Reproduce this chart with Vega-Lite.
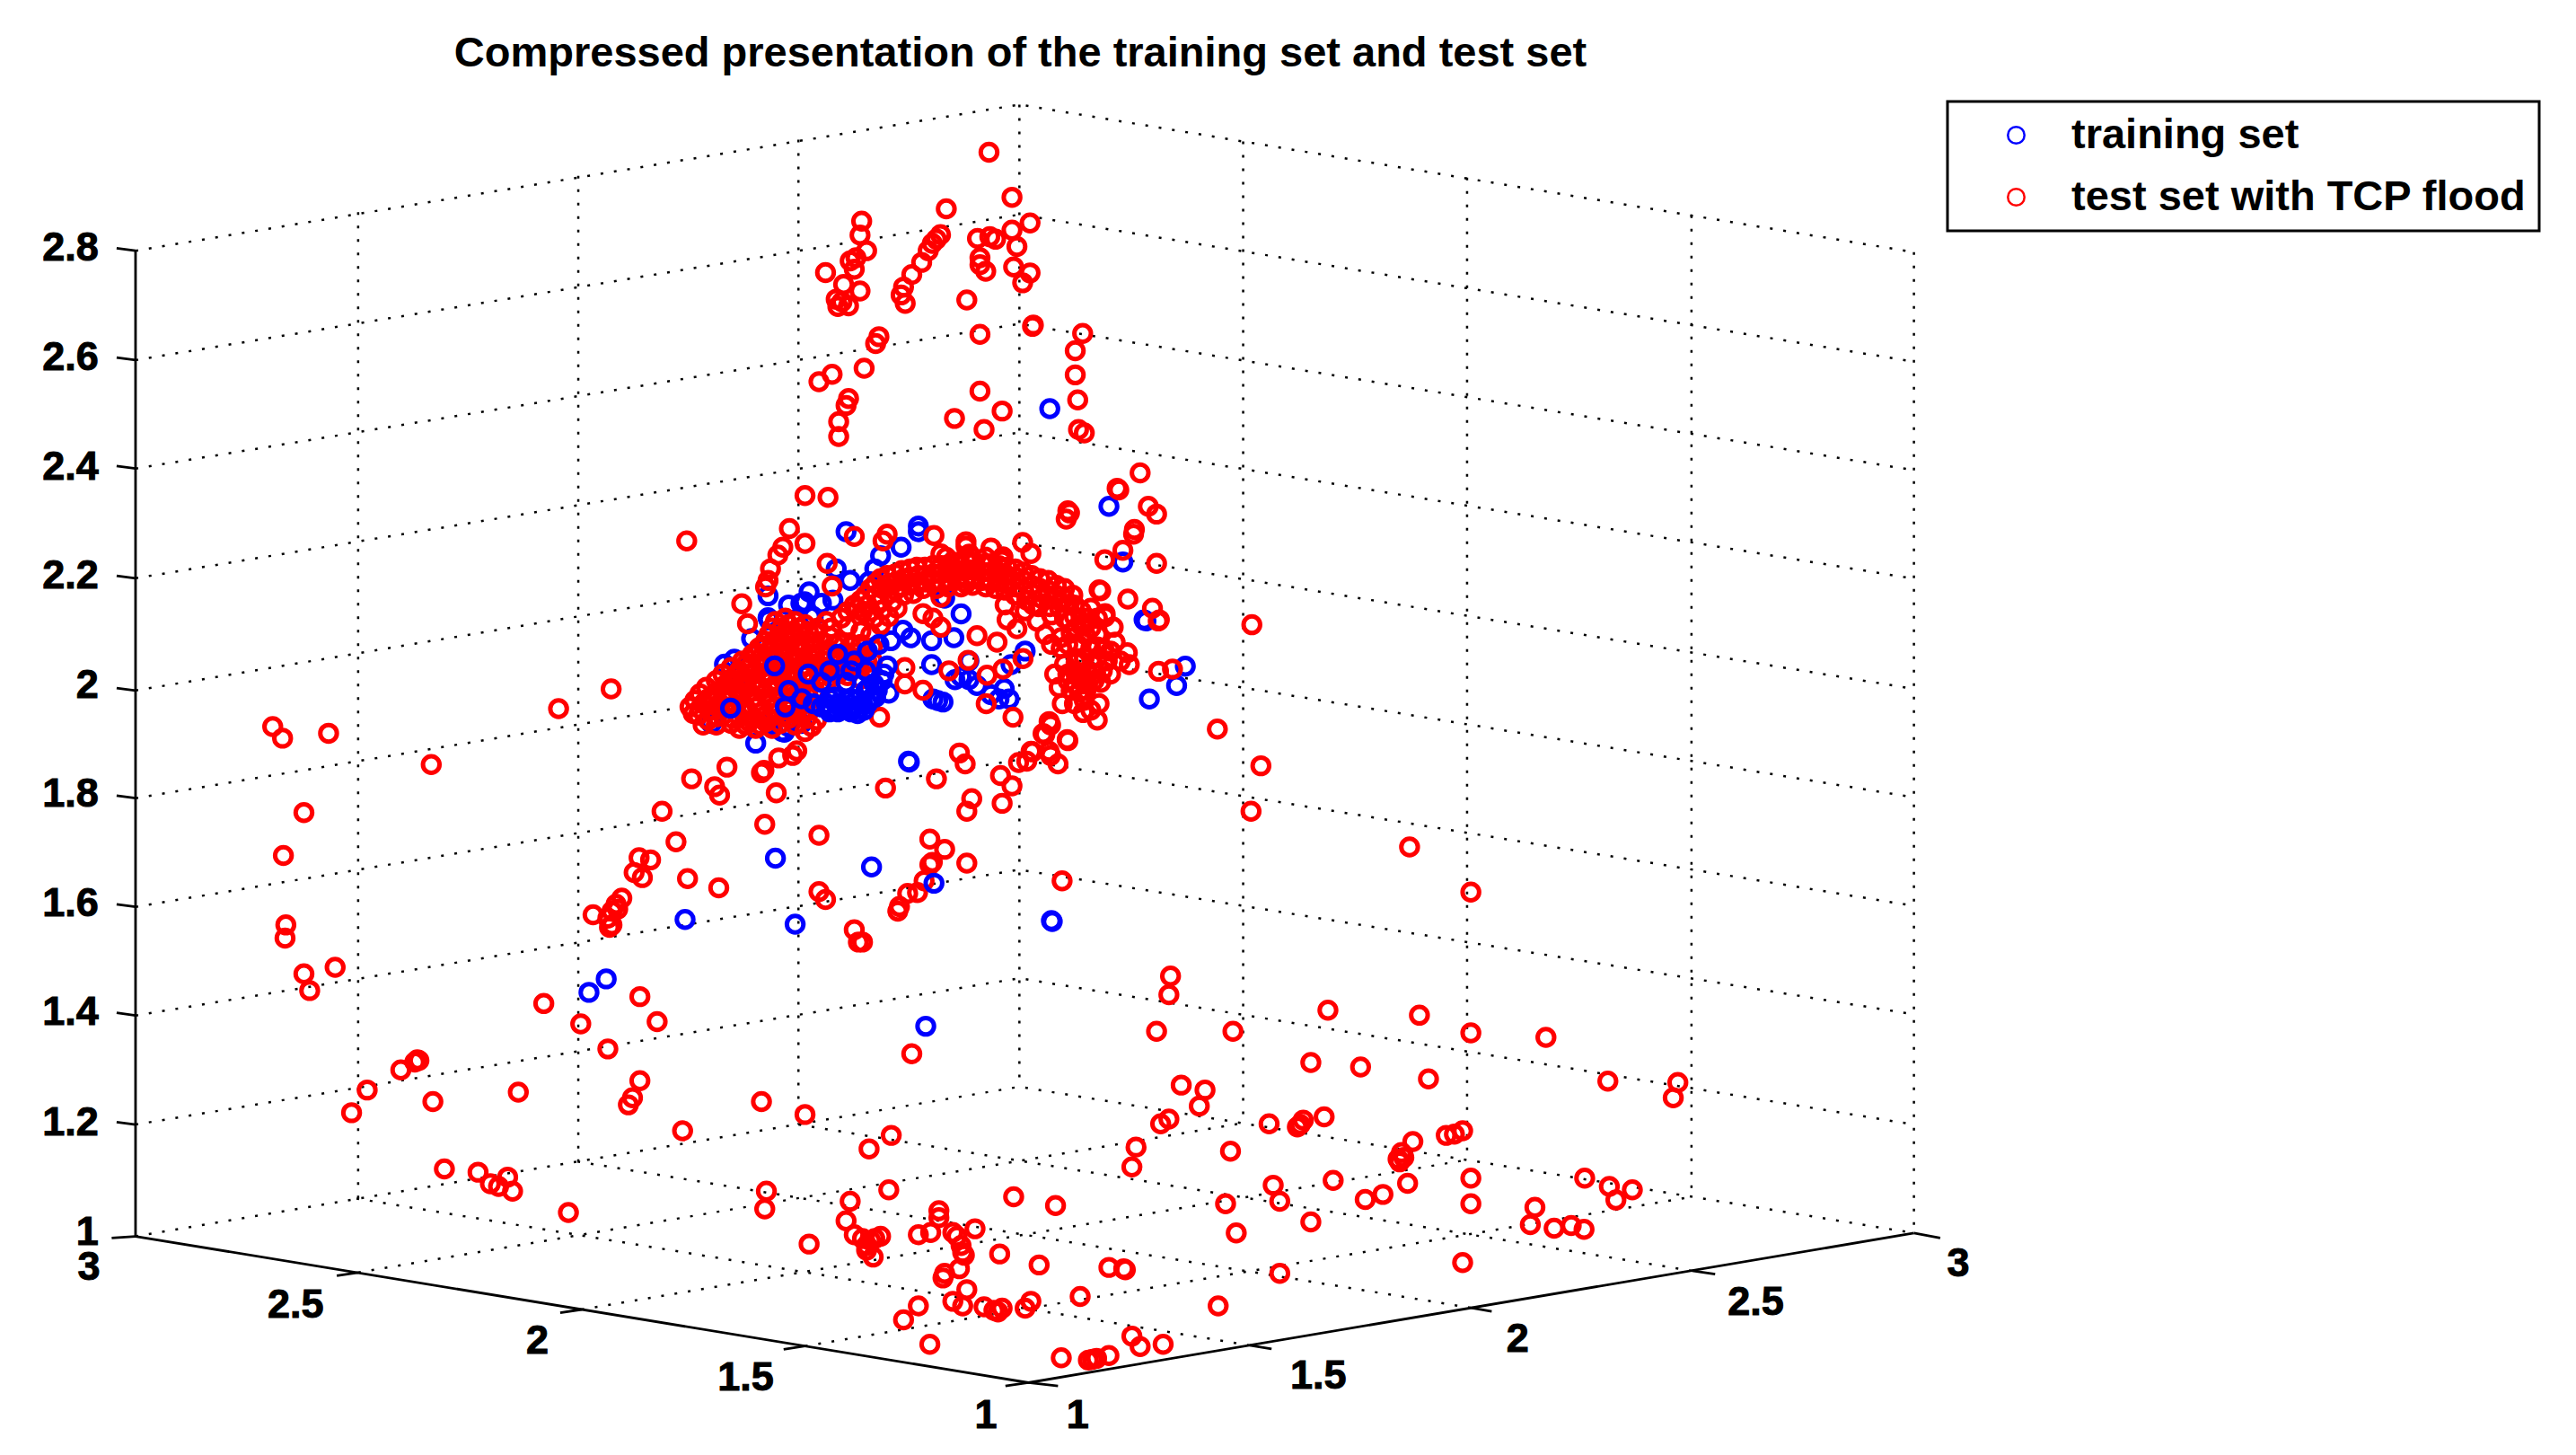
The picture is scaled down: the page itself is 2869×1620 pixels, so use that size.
{"$schema":"https://vega.github.io/schema/vega-lite/v6.json","width":2869,"height":1620,"padding":0,"autosize":"none","background":"white",
"title":{"text":"Compressed presentation of the training set and test set","font":"Liberation Sans","fontSize":47,"fontWeight":"bold","color":"black","anchor":"middle","dx":-298,"offset":-84},
"config":{"view":{"stroke":null},"font":"Liberation Sans","legend":{"strokeWidth":3}},
"datasets":{
"grid":[
{"line":"z2.8","u":82.5,"v":152.5},{"line":"z2.8","u":620.5,"v":63.6},{"line":"z2.8","u":1165,"v":153.4},
{"line":"z2.6","u":82.5,"v":219},{"line":"z2.6","u":620.5,"v":130.5},{"line":"z2.6","u":1165,"v":220},
{"line":"z2.4","u":82.5,"v":285},{"line":"z2.4","u":620.5,"v":197},{"line":"z2.4","u":1165,"v":286},
{"line":"z2.2","u":82.5,"v":351.7},{"line":"z2.2","u":620.5,"v":263},{"line":"z2.2","u":1165,"v":352},
{"line":"z2","u":82.5,"v":420},{"line":"z2","u":620.5,"v":330},{"line":"z2","u":1165,"v":419},
{"line":"z1.8","u":82.5,"v":485.5},{"line":"z1.8","u":620.5,"v":396},{"line":"z1.8","u":1165,"v":485},
{"line":"z1.6","u":82.5,"v":551.6},{"line":"z1.6","u":620.5,"v":462},{"line":"z1.6","u":1165,"v":551},
{"line":"z1.4","u":82.5,"v":617.7},{"line":"z1.4","u":620.5,"v":529},{"line":"z1.4","u":1165,"v":617},
{"line":"z1.2","u":82.5,"v":684},{"line":"z1.2","u":620.5,"v":595},{"line":"z1.2","u":1165,"v":684},
{"line":"z1","u":82.5,"v":752},{"line":"z1","u":620.5,"v":661},{"line":"z1","u":1165,"v":750},
{"line":"a","u":218,"v":129},{"line":"a","u":218,"v":729},
{"line":"b","u":352,"v":107},{"line":"b","u":352,"v":706.5},
{"line":"c","u":486,"v":85},{"line":"c","u":486,"v":684},
{"line":"d","u":620.5,"v":63.6},{"line":"d","u":620.5,"v":661},
{"line":"e","u":756.7,"v":86},{"line":"e","u":756.7,"v":683},
{"line":"f","u":893,"v":108},{"line":"f","u":893,"v":705.5},
{"line":"g","u":1029.6,"v":131},{"line":"g","u":1029.6,"v":728},
{"line":"h","u":1165,"v":153.4},{"line":"h","u":1165,"v":750},
{"line":"i","u":218,"v":774},{"line":"i","u":757,"v":683},
{"line":"j","u":354,"v":796.5},{"line":"j","u":893,"v":705.5},
{"line":"k","u":490,"v":818.7},{"line":"k","u":1029.6,"v":728},
{"line":"l","u":760.7,"v":818.3},{"line":"l","u":217,"v":729},
{"line":"m","u":895.5,"v":795.5},{"line":"m","u":351.5,"v":706.5},
{"line":"n","u":1030,"v":773},{"line":"n","u":486,"v":684}
],
"axes":[
{"line":"zaxis","u":82.5,"v":152.5},{"line":"zaxis","u":82.5,"v":752},
{"line":"front","u":82.5,"v":752},{"line":"front","u":626,"v":841},{"line":"front","u":1165,"v":750},
{"line":"t1","u":82.5,"v":152.5},{"line":"t1","u":71,"v":151},
{"line":"t2","u":82.5,"v":219},{"line":"t2","u":71,"v":217.5},
{"line":"t3","u":82.5,"v":285},{"line":"t3","u":71,"v":283.5},
{"line":"t4","u":82.5,"v":351.7},{"line":"t4","u":71,"v":350.2},
{"line":"t5","u":82.5,"v":420},{"line":"t5","u":71,"v":418.5},
{"line":"t6","u":82.5,"v":485.5},{"line":"t6","u":71,"v":484},
{"line":"t7","u":82.5,"v":551.6},{"line":"t7","u":71,"v":550},
{"line":"t8","u":82.5,"v":617.7},{"line":"t8","u":71,"v":616},
{"line":"t9","u":82.5,"v":684},{"line":"t9","u":71,"v":682.5},
{"line":"t10","u":82.5,"v":752},{"line":"t10","u":68,"v":753},
{"line":"t11","u":218,"v":774},{"line":"t11","u":205,"v":776},
{"line":"t12","u":354,"v":796.5},{"line":"t12","u":341,"v":798.5},
{"line":"t13","u":490,"v":818.7},{"line":"t13","u":477,"v":820.7},
{"line":"t14","u":626,"v":841},{"line":"t14","u":612,"v":843},
{"line":"t15","u":626,"v":841},{"line":"t15","u":644,"v":843},
{"line":"t16","u":760.7,"v":818.3},{"line":"t16","u":774,"v":820.5},
{"line":"t17","u":895.5,"v":795.5},{"line":"t17","u":908,"v":797.7},
{"line":"t18","u":1030,"v":773},{"line":"t18","u":1044,"v":775},
{"line":"t19","u":1165,"v":750},{"line":"t19","u":1181,"v":753}
],
"ticks":[
{"label":"2.8","u":60,"v":151,"align":"right"},{"label":"2.6","u":60,"v":217.5,"align":"right"},{"label":"2.4","u":60,"v":284,"align":"right"},{"label":"2.2","u":60,"v":350,"align":"right"},{"label":"2","u":60,"v":416.7,"align":"right"},{"label":"1.8","u":60,"v":483,"align":"right"},{"label":"1.6","u":60,"v":549.4,"align":"right"},{"label":"1.4","u":60,"v":615.5,"align":"right"},{"label":"1.2","u":60,"v":682.7,"align":"right"},{"label":"1","u":60,"v":749.6,"align":"right"},
{"label":"3","u":61,"v":771,"align":"right"},{"label":"2.5","u":197,"v":793.7,"align":"right"},{"label":"2","u":334,"v":815.5,"align":"right"},{"label":"1.5","u":471,"v":838,"align":"right"},{"label":"1","u":607,"v":860.7,"align":"right"},
{"label":"1","u":656,"v":860.7,"align":"center"},{"label":"1.5","u":802.4,"v":836.7,"align":"center"},{"label":"2","u":923.8,"v":814.6,"align":"center"},{"label":"2.5","u":1068.8,"v":792,"align":"center"},{"label":"3","u":1192,"v":768.9,"align":"center"}
],
"points":[
{"u":639,"v":248.6,"set":"train"},{"u":675,"v":308,"set":"train"},{"u":515,"v":323.4,"set":"train"},{"u":559,"v":320,"set":"train"},{"u":559,"v":323.4,"set":"train"},{"u":683.5,"v":341.8,"set":"train"},{"u":548.5,"v":332.8,"set":"train"},{"u":536,"v":338,"set":"train"},{"u":532.5,"v":346,"set":"train"},{"u":509,"v":346,"set":"train"},{"u":517.5,"v":353,"set":"train"},{"u":529,"v":353.7,"set":"train"},{"u":467.5,"v":362.4,"set":"train"},{"u":697.5,"v":377.7,"set":"train"},{"u":575,"v":363.8,"set":"train"},{"u":585,"v":373.4,"set":"train"},{"u":492.5,"v":360,"set":"train"},{"u":487.5,"v":367,"set":"train"},{"u":480,"v":368,"set":"train"},{"u":500,"v":367,"set":"train"},{"u":467.5,"v":375.7,"set":"train"},{"u":468,"v":377,"set":"train"},{"u":495,"v":375,"set":"train"},{"u":457.5,"v":388.4,"set":"train"},{"u":507,"v":365,"set":"train"},{"u":489.8,"v":366,"set":"train"},{"u":493.5,"v":375,"set":"train"},{"u":580.6,"v":387.9,"set":"train"},{"u":567.1,"v":389.7,"set":"train"},{"u":554.4,"v":387.9,"set":"train"},{"u":542.3,"v":389.7,"set":"train"},{"u":549.6,"v":383.3,"set":"train"},{"u":567.1,"v":404.3,"set":"train"},{"u":589.8,"v":402,"set":"train"},{"u":615.4,"v":404.3,"set":"train"},{"u":624,"v":396,"set":"train"},{"u":585,"v":411.6,"set":"train"},{"u":581.3,"v":413.4,"set":"train"},{"u":589.8,"v":413.4,"set":"train"},{"u":594.7,"v":417,"set":"train"},{"u":603.2,"v":422.5,"set":"train"},{"u":611.3,"v":418.9,"set":"train"},{"u":614.2,"v":425.2,"set":"train"},{"u":608.1,"v":425.2,"set":"train"},{"u":570.8,"v":426.1,"set":"train"},{"u":567.9,"v":425.2,"set":"train"},{"u":574,"v":427,"set":"train"},{"u":541,"v":421.6,"set":"train"},{"u":721.5,"v":405.2,"set":"train"},{"u":716.2,"v":417,"set":"train"},{"u":699.6,"v":425.2,"set":"train"},{"u":696.4,"v":377,"set":"train"},{"u":460,"v":452,"set":"train"},{"u":477.5,"v":445.4,"set":"train"},{"u":553,"v":463,"set":"train"},{"u":553.5,"v":463.5,"set":"train"},{"u":640,"v":560,"set":"train"},{"u":640.5,"v":560.5,"set":"train"},{"u":530.5,"v":527.3,"set":"train"},{"u":472,"v":522,"set":"train"},{"u":417,"v":559.3,"set":"train"},{"u":484,"v":562.1,"set":"train"},{"u":369,"v":595.4,"set":"train"},{"u":358.5,"v":603.6,"set":"train"},{"u":563.5,"v":624.2,"set":"train"},
{"u":471,"v":438,"set":"train"},{"u":480,"v":442,"set":"train"},{"u":488,"v":440,"set":"train"},{"u":476,"v":445,"set":"train"},{"u":468,"v":441,"set":"train"},{"u":441,"v":404,"set":"train"},{"u":447,"v":401,"set":"train"},{"u":451,"v":410,"set":"train"},{"u":433,"v":440,"set":"train"},
{"u":602,"v":92.6,"set":"test"},{"u":616,"v":120,"set":"test"},{"u":576,"v":127,"set":"test"},{"u":524.5,"v":134.5,"set":"test"},{"u":627,"v":135.6,"set":"test"},{"u":523.5,"v":143,"set":"test"},{"u":616,"v":140,"set":"test"},{"u":572.5,"v":142.7,"set":"test"},{"u":570,"v":145.5,"set":"test"},{"u":567.5,"v":148,"set":"test"},{"u":565,"v":152.5,"set":"test"},{"u":561,"v":159.6,"set":"test"},{"u":555,"v":167,"set":"test"},{"u":595,"v":145,"set":"test"},{"u":602.5,"v":144,"set":"test"},{"u":606,"v":145.5,"set":"test"},{"u":619,"v":150,"set":"test"},{"u":527.5,"v":152.5,"set":"test"},{"u":517.5,"v":158.7,"set":"test"},{"u":521,"v":156.8,"set":"test"},{"u":520,"v":163.8,"set":"test"},{"u":596.5,"v":156.8,"set":"test"},{"u":596.5,"v":161,"set":"test"},{"u":600,"v":165,"set":"test"},{"u":617,"v":162.4,"set":"test"},{"u":627,"v":166,"set":"test"},{"u":622.5,"v":172,"set":"test"},{"u":502.5,"v":165.8,"set":"test"},{"u":513.5,"v":173,"set":"test"},{"u":523.5,"v":177,"set":"test"},{"u":550,"v":174.6,"set":"test"},{"u":548.5,"v":179.4,"set":"test"},{"u":551,"v":184.5,"set":"test"},{"u":588.5,"v":182.5,"set":"test"},{"u":509,"v":182,"set":"test"},{"u":512.5,"v":183.6,"set":"test"},{"u":510,"v":186.4,"set":"test"},{"u":516.5,"v":186,"set":"test"},{"u":629,"v":197.7,"set":"test"},{"u":628.5,"v":198.5,"set":"test"},{"u":659,"v":202.8,"set":"test"},{"u":596.5,"v":203.4,"set":"test"},{"u":535,"v":204.8,"set":"test"},{"u":533,"v":209,"set":"test"},{"u":654.5,"v":213.3,"set":"test"},{"u":526,"v":224,"set":"test"},{"u":506.5,"v":227.7,"set":"test"},{"u":498.5,"v":232.2,"set":"test"},{"u":654.5,"v":228,"set":"test"},{"u":596.5,"v":237.9,"set":"test"},{"u":516.5,"v":242.4,"set":"test"},{"u":515,"v":246.6,"set":"test"},{"u":656,"v":243.2,"set":"test"},{"u":610,"v":250,"set":"test"},{"u":581,"v":254.5,"set":"test"},{"u":510.5,"v":256.5,"set":"test"},{"u":599,"v":261.3,"set":"test"},{"u":510.5,"v":265.5,"set":"test"},{"u":656.5,"v":261.3,"set":"test"},{"u":660,"v":263.3,"set":"test"},{"u":694,"v":287.6,"set":"test"},{"u":681,"v":298,"set":"test"},{"u":680,"v":297,"set":"test"},{"u":699,"v":308,"set":"test"},{"u":704,"v":312.7,"set":"test"},{"u":650,"v":310.7,"set":"test"},{"u":649,"v":315.8,"set":"test"},{"u":651,"v":312,"set":"test"},{"u":490,"v":301.4,"set":"test"},{"u":504,"v":302.5,"set":"test"},{"u":418,"v":329,"set":"test"},{"u":690.5,"v":322,"set":"test"},{"u":690,"v":324.9,"set":"test"},{"u":480.5,"v":321.5,"set":"test"},{"u":520,"v":326.3,"set":"test"},{"u":540,"v":324.9,"set":"test"},{"u":537.5,"v":329,"set":"test"},{"u":568.5,"v":325.7,"set":"test"},{"u":490,"v":330.5,"set":"test"},{"u":622.5,"v":330,"set":"test"},{"u":627.5,"v":336.7,"set":"test"},{"u":672.5,"v":340.4,"set":"test"},{"u":683.5,"v":334.7,"set":"test"},{"u":704,"v":342.7,"set":"test"},{"u":476.5,"v":332.8,"set":"test"},{"u":473.5,"v":337.6,"set":"test"},{"u":469,"v":346,"set":"test"},{"u":467.5,"v":353,"set":"test"},{"u":466,"v":357,"set":"test"},{"u":503.5,"v":342.7,"set":"test"},{"u":506.5,"v":356.5,"set":"test"},{"u":451.5,"v":367.2,"set":"test"},{"u":670,"v":359.3,"set":"test"},{"u":686.5,"v":364.4,"set":"test"},{"u":701.5,"v":370,"set":"test"},{"u":705,"v":377.7,"set":"test"},{"u":762,"v":380,"set":"test"},{"u":455,"v":379.4,"set":"test"},
{"u":572.7,"v":336.9,"set":"test"},{"u":588,"v":332.3,"set":"test"},{"u":588,"v":329.5,"set":"test"},{"u":603.2,"v":333.3,"set":"test"},{"u":610.5,"v":338.7,"set":"test"},{"u":572.7,"v":363.3,"set":"test"},{"u":567.9,"v":376,"set":"test"},{"u":572.7,"v":381.5,"set":"test"},{"u":561.8,"v":373.3,"set":"test"},{"u":594.7,"v":386.6,"set":"test"},{"u":606.9,"v":390.6,"set":"test"},{"u":589.3,"v":401.6,"set":"test"},{"u":577.6,"v":408,"set":"test"},{"u":600.8,"v":410.7,"set":"test"},{"u":610.5,"v":407,"set":"test"},{"u":622.7,"v":400.6,"set":"test"},{"u":600.3,"v":428,"set":"test"},{"u":616.6,"v":436.2,"set":"test"},{"u":561.8,"v":419.8,"set":"test"},{"u":550.8,"v":416,"set":"test"},{"u":550.8,"v":406,"set":"test"},{"u":535.4,"v":436.2,"set":"test"},
{"u":669,"v":358.8,"set":"test"},{"u":705.7,"v":377,"set":"test"},{"u":705.2,"v":408.3,"set":"test"},{"u":713.7,"v":407,"set":"test"},{"u":741,"v":443.5,"set":"test"},{"u":649.6,"v":449.8,"set":"test"},{"u":638.6,"v":438.9,"set":"test"},{"u":639.5,"v":441,"set":"test"},{"u":634.9,"v":446.2,"set":"test"},{"u":627.6,"v":457,"set":"test"},{"u":638.6,"v":457,"set":"test"},{"u":667.9,"v":438,"set":"test"},{"u":659.3,"v":433.4,"set":"test"},{"u":669,"v":428,"set":"test"},{"u":646.6,"v":428,"set":"test"},{"u":644.7,"v":418,"set":"test"},{"u":687.4,"v":404.3,"set":"test"},{"u":686.2,"v":397,"set":"test"},{"u":678.8,"v":390.6,"set":"test"},{"u":677.6,"v":381.5,"set":"test"},{"u":672.7,"v":373.3,"set":"test"},
{"u":611.8,"v":367.9,"set":"test"},{"u":613,"v":377,"set":"test"},{"u":619,"v":382.4,"set":"test"},{"u":631.3,"v":377.9,"set":"test"},{"u":636.2,"v":386,"set":"test"},{"u":645.9,"v":387.9,"set":"test"},{"u":645.9,"v":394.3,"set":"test"},{"u":655.7,"v":400.6,"set":"test"},{"u":658.1,"v":380.6,"set":"test"},{"u":660.6,"v":386,"set":"test"},{"u":658.1,"v":371.5,"set":"test"},{"u":650.8,"v":367.9,"set":"test"},{"u":641,"v":364.2,"set":"test"},{"u":628.8,"v":367.9,"set":"test"},{"u":624,"v":371.5,"set":"test"},{"u":667.9,"v":393.4,"set":"test"},{"u":665.4,"v":404.3,"set":"test"},{"u":672.7,"v":375.1,"set":"test"},
{"u":655,"v":382,"set":"test"},{"u":650,"v":392,"set":"test"},{"u":664,"v":382,"set":"test"},{"u":668,"v":386,"set":"test"},{"u":652,"v":385,"set":"test"},{"u":640,"v":392,"set":"test"},{"u":651,"v":378,"set":"test"},{"u":664,"v":370,"set":"test"},{"u":668,"v":376,"set":"test"},{"u":676,"v":396,"set":"test"},{"u":660,"v":426,"set":"test"},{"u":654,"v":428,"set":"test"},{"u":664,"v":432,"set":"test"},{"u":670,"v":415,"set":"test"},{"u":676,"v":410,"set":"test"},{"u":682,"v":402,"set":"test"},{"u":648,"v":404,"set":"test"},{"u":642,"v":410,"set":"test"},
{"u":650,"v":410,"set":"test"},{"u":654,"v":408,"set":"test"},{"u":658,"v":410,"set":"test"},{"u":662,"v":408,"set":"test"},{"u":667,"v":410,"set":"test"},{"u":671,"v":408,"set":"test"},{"u":650,"v":414,"set":"test"},{"u":654,"v":416,"set":"test"},{"u":658,"v":414,"set":"test"},{"u":662,"v":416,"set":"test"},{"u":666,"v":414,"set":"test"},{"u":652,"v":420,"set":"test"},{"u":657,"v":421,"set":"test"},{"u":661,"v":420,"set":"test"},{"u":655,"v":403,"set":"test"},{"u":660,"v":400,"set":"test"},{"u":668,"v":400,"set":"test"},{"u":674,"v":402,"set":"test"},{"u":672,"v":395,"set":"test"},{"u":664,"v":394,"set":"test"},{"u":656,"v":392,"set":"test"},
{"u":512,"v":376,"set":"test"},{"u":516,"v":372,"set":"test"},{"u":520,"v":368,"set":"test"},{"u":524,"v":365,"set":"test"},{"u":522,"v":370,"set":"test"},{"u":527,"v":362,"set":"test"},{"u":530,"v":358,"set":"test"},{"u":528,"v":368,"set":"test"},{"u":533,"v":355,"set":"test"},{"u":533,"v":362,"set":"test"},{"u":536,"v":352,"set":"test"},{"u":537,"v":358,"set":"test"},{"u":535,"v":366,"set":"test"},{"u":540,"v":350,"set":"test"},{"u":541,"v":355,"set":"test"},{"u":541,"v":361,"set":"test"},{"u":545,"v":349,"set":"test"},{"u":545,"v":354,"set":"test"},{"u":545,"v":359,"set":"test"},{"u":549,"v":347,"set":"test"},{"u":550,"v":352,"set":"test"},{"u":549,"v":357,"set":"test"},{"u":554,"v":346,"set":"test"},{"u":554,"v":351,"set":"test"},{"u":554,"v":356,"set":"test"},{"u":558,"v":345,"set":"test"},{"u":559,"v":350,"set":"test"},{"u":558,"v":355,"set":"test"},{"u":563,"v":345,"set":"test"},{"u":563,"v":350,"set":"test"},{"u":563,"v":354,"set":"test"},{"u":568,"v":344,"set":"test"},{"u":568,"v":349,"set":"test"},{"u":568,"v":354,"set":"test"},{"u":573,"v":344,"set":"test"},{"u":573,"v":349,"set":"test"},{"u":573,"v":354,"set":"test"},{"u":578,"v":343,"set":"test"},{"u":578,"v":348,"set":"test"},{"u":578,"v":353,"set":"test"},{"u":583,"v":342,"set":"test"},{"u":583,"v":347,"set":"test"},{"u":583,"v":352,"set":"test"},{"u":588,"v":341,"set":"test"},{"u":588,"v":346,"set":"test"},{"u":588,"v":351,"set":"test"},{"u":588,"v":355,"set":"test"},{"u":593,"v":342,"set":"test"},{"u":593,"v":347,"set":"test"},{"u":593,"v":352,"set":"test"},{"u":598,"v":343,"set":"test"},{"u":598,"v":348,"set":"test"},{"u":598,"v":353,"set":"test"},{"u":603,"v":343,"set":"test"},{"u":603,"v":348,"set":"test"},{"u":603,"v":353,"set":"test"},{"u":608,"v":344,"set":"test"},{"u":608,"v":349,"set":"test"},{"u":608,"v":354,"set":"test"},{"u":613,"v":345,"set":"test"},{"u":613,"v":350,"set":"test"},{"u":613,"v":355,"set":"test"},{"u":618,"v":346,"set":"test"},{"u":618,"v":351,"set":"test"},{"u":618,"v":357,"set":"test"},{"u":623,"v":348,"set":"test"},{"u":623,"v":353,"set":"test"},{"u":623,"v":359,"set":"test"},{"u":628,"v":350,"set":"test"},{"u":628,"v":356,"set":"test"},{"u":628,"v":361,"set":"test"},{"u":633,"v":352,"set":"test"},{"u":633,"v":358,"set":"test"},{"u":634,"v":364,"set":"test"},{"u":638,"v":353,"set":"test"},{"u":638,"v":359,"set":"test"},{"u":639,"v":369,"set":"test"},{"u":643,"v":356,"set":"test"},{"u":643,"v":362,"set":"test"},{"u":645,"v":370,"set":"test"},{"u":648,"v":358,"set":"test"},{"u":648,"v":364,"set":"test"},{"u":653,"v":362,"set":"test"},{"u":654,"v":368,"set":"test"},{"u":648,"v":376,"set":"test"},{"u":654,"v":375,"set":"test"},{"u":662,"v":376,"set":"test"},
{"u":525,"v":372,"set":"test"},{"u":530,"v":372,"set":"test"},{"u":537,"v":371,"set":"test"},{"u":543,"v":366,"set":"test"},{"u":550,"v":362,"set":"test"},{"u":556,"v":361,"set":"test"},{"u":562,"v":358,"set":"test"},{"u":570,"v":358,"set":"test"},{"u":577,"v":357,"set":"test"},{"u":585,"v":357,"set":"test"},{"u":592,"v":356,"set":"test"},{"u":600,"v":357,"set":"test"},{"u":606,"v":358,"set":"test"},{"u":612,"v":359,"set":"test"},{"u":618,"v":362,"set":"test"},{"u":625,"v":365,"set":"test"},{"u":632,"v":369,"set":"test"},{"u":640,"v":374,"set":"test"},{"u":576,"v":339,"set":"test"},{"u":590,"v":337,"set":"test"},{"u":600,"v":339,"set":"test"},{"u":610,"v":341,"set":"test"},
{"u":472,"v":378,"set":"test"},{"u":478,"v":376,"set":"test"},{"u":484,"v":378,"set":"test"},{"u":490,"v":380,"set":"test"},{"u":497,"v":385,"set":"test"},{"u":470,"v":382,"set":"test"},{"u":476,"v":382,"set":"test"},{"u":483,"v":384,"set":"test"},{"u":503,"v":378,"set":"test"},{"u":468,"v":386,"set":"test"},{"u":474,"v":387,"set":"test"},{"u":480,"v":389,"set":"test"},{"u":487,"v":386,"set":"test"},{"u":493,"v":390,"set":"test"},{"u":505,"v":387,"set":"test"},{"u":466,"v":390,"set":"test"},{"u":471,"v":392,"set":"test"},{"u":477,"v":393,"set":"test"},{"u":484,"v":392,"set":"test"},{"u":500,"v":390,"set":"test"},{"u":511,"v":391,"set":"test"},{"u":518,"v":393,"set":"test"},{"u":462,"v":394,"set":"test"},{"u":468,"v":396,"set":"test"},{"u":474,"v":398,"set":"test"},{"u":481,"v":397,"set":"test"},{"u":489,"v":396,"set":"test"},{"u":496,"v":394,"set":"test"},{"u":504,"v":396,"set":"test"},{"u":514,"v":397,"set":"test"},{"u":524,"v":392,"set":"test"},{"u":530,"v":386,"set":"test"},{"u":458,"v":398,"set":"test"},{"u":463,"v":400,"set":"test"},{"u":470,"v":401,"set":"test"},{"u":478,"v":403,"set":"test"},{"u":486,"v":402,"set":"test"},{"u":493,"v":400,"set":"test"},{"u":501,"v":402,"set":"test"},{"u":508,"v":403,"set":"test"},{"u":516,"v":401,"set":"test"},{"u":525,"v":399,"set":"test"},{"u":531,"v":402,"set":"test"},{"u":452,"v":402,"set":"test"},{"u":457,"v":405,"set":"test"},{"u":464,"v":406,"set":"test"},{"u":473,"v":408,"set":"test"},{"u":482,"v":408,"set":"test"},{"u":489,"v":406,"set":"test"},{"u":497,"v":407,"set":"test"},{"u":512,"v":407,"set":"test"},{"u":522,"v":405,"set":"test"},{"u":530,"v":408,"set":"test"},{"u":445,"v":406,"set":"test"},{"u":450,"v":408,"set":"test"},{"u":457,"v":410,"set":"test"},{"u":466,"v":412,"set":"test"},{"u":476,"v":413,"set":"test"},{"u":485,"v":413,"set":"test"},{"u":493,"v":414,"set":"test"},{"u":506,"v":412,"set":"test"},{"u":516,"v":411,"set":"test"},{"u":524,"v":413,"set":"test"},{"u":440,"v":410,"set":"test"},{"u":445,"v":413,"set":"test"},{"u":452,"v":414,"set":"test"},{"u":461,"v":416,"set":"test"},{"u":470,"v":418,"set":"test"},{"u":480,"v":417,"set":"test"},{"u":488,"v":418,"set":"test"},{"u":496,"v":420,"set":"test"},{"u":503,"v":416,"set":"test"},{"u":436,"v":414,"set":"test"},{"u":441,"v":417,"set":"test"},{"u":448,"v":419,"set":"test"},{"u":456,"v":421,"set":"test"},{"u":465,"v":422,"set":"test"},{"u":475,"v":423,"set":"test"},{"u":484,"v":423,"set":"test"},{"u":492,"v":424,"set":"test"},{"u":430,"v":418,"set":"test"},{"u":436,"v":421,"set":"test"},{"u":443,"v":424,"set":"test"},{"u":451,"v":425,"set":"test"},{"u":460,"v":427,"set":"test"},{"u":469,"v":428,"set":"test"},{"u":479,"v":428,"set":"test"},{"u":488,"v":429,"set":"test"},{"u":426,"v":422,"set":"test"},{"u":431,"v":425,"set":"test"},{"u":438,"v":428,"set":"test"},{"u":448,"v":430,"set":"test"},{"u":455,"v":432,"set":"test"},{"u":464,"v":433,"set":"test"},{"u":474,"v":433,"set":"test"},{"u":484,"v":434,"set":"test"},{"u":493,"v":432,"set":"test"},{"u":423,"v":426,"set":"test"},{"u":420,"v":430,"set":"test"},{"u":426,"v":431,"set":"test"},{"u":433,"v":432,"set":"test"},{"u":440,"v":435,"set":"test"},{"u":450,"v":436,"set":"test"},{"u":459,"v":437,"set":"test"},{"u":468,"v":437,"set":"test"},{"u":480,"v":437,"set":"test"},{"u":491,"v":437,"set":"test"},{"u":425,"v":435,"set":"test"},{"u":431,"v":438,"set":"test"},{"u":445,"v":440,"set":"test"},{"u":454,"v":441,"set":"test"},{"u":463,"v":441,"set":"test"},{"u":475,"v":440,"set":"test"},{"u":484,"v":441,"set":"test"},{"u":494,"v":442,"set":"test"},
{"u":480,"v":380,"set":"test"},{"u":486,"v":382,"set":"test"},{"u":492,"v":384,"set":"test"},{"u":498,"v":382,"set":"test"},{"u":506,"v":382,"set":"test"},{"u":474,"v":390,"set":"test"},{"u":481,"v":386,"set":"test"},{"u":490,"v":392,"set":"test"},{"u":496,"v":398,"set":"test"},{"u":508,"v":392,"set":"test"},{"u":520,"v":397,"set":"test"},{"u":465,"v":393,"set":"test"},{"u":460,"v":397,"set":"test"},{"u":466,"v":403,"set":"test"},{"u":474,"v":404,"set":"test"},{"u":484,"v":400,"set":"test"},{"u":498,"v":404,"set":"test"},{"u":504,"v":406,"set":"test"},{"u":514,"v":404,"set":"test"},{"u":528,"v":403,"set":"test"},{"u":454,"v":404,"set":"test"},{"u":460,"v":408,"set":"test"},{"u":469,"v":410,"set":"test"},{"u":479,"v":411,"set":"test"},{"u":489,"v":411,"set":"test"},{"u":500,"v":411,"set":"test"},{"u":510,"v":410,"set":"test"},{"u":448,"v":411,"set":"test"},{"u":454,"v":418,"set":"test"},{"u":463,"v":419,"set":"test"},{"u":473,"v":415,"set":"test"},{"u":483,"v":420,"set":"test"},{"u":492,"v":419,"set":"test"},{"u":443,"v":420,"set":"test"},{"u":450,"v":422,"set":"test"},{"u":459,"v":424,"set":"test"},{"u":470,"v":424,"set":"test"},{"u":481,"v":426,"set":"test"},{"u":491,"v":427,"set":"test"},{"u":434,"v":425,"set":"test"},{"u":441,"v":430,"set":"test"},{"u":452,"v":432,"set":"test"},{"u":461,"v":430,"set":"test"},{"u":471,"v":431,"set":"test"},{"u":482,"v":431,"set":"test"},{"u":490,"v":433,"set":"test"},{"u":428,"v":428,"set":"test"},{"u":422,"v":434,"set":"test"},{"u":436,"v":436,"set":"test"},{"u":446,"v":437,"set":"test"},{"u":456,"v":439,"set":"test"},{"u":466,"v":439,"set":"test"},{"u":478,"v":435,"set":"test"},{"u":488,"v":435,"set":"test"},{"u":428,"v":441,"set":"test"},{"u":436,"v":441,"set":"test"},{"u":450,"v":443,"set":"test"},{"u":460,"v":443,"set":"test"},{"u":470,"v":443,"set":"test"},{"u":490,"v":445,"set":"test"},{"u":497,"v":438,"set":"test"},
{"u":531,"v":394,"set":"test"},{"u":536,"v":380,"set":"test"},{"u":541,"v":375,"set":"test"},{"u":546,"v":370,"set":"test"},{"u":532,"v":376,"set":"test"},{"u":524,"v":384,"set":"test"},{"u":516,"v":381,"set":"test"},
{"u":166,"v":442,"set":"test"},{"u":172,"v":449,"set":"test"},{"u":200,"v":446,"set":"test"},{"u":340,"v":431,"set":"test"},{"u":372,"v":419,"set":"test"},{"u":262.5,"v":465,"set":"test"},{"u":185,"v":494.3,"set":"test"},{"u":172.5,"v":520.3,"set":"test"},{"u":174,"v":562.6,"set":"test"},{"u":173.5,"v":570.6,"set":"test"},{"u":185,"v":592.3,"set":"test"},{"u":204,"v":588.4,"set":"test"},{"u":188.5,"v":602.5,"set":"test"},{"u":331,"v":610.4,"set":"test"},{"u":389.5,"v":606.2,"set":"test"},{"u":353.5,"v":622.8,"set":"test"},{"u":400,"v":621.4,"set":"test"},{"u":370,"v":638,"set":"test"},{"u":254,"v":644.6,"set":"test"},{"u":252.5,"v":646,"set":"test"},{"u":255,"v":645,"set":"test"},{"u":244,"v":650.8,"set":"test"},{"u":223.5,"v":663,"set":"test"},{"u":214,"v":676.8,"set":"test"},{"u":263.5,"v":670,"set":"test"},{"u":315.5,"v":664.3,"set":"test"},{"u":389.5,"v":657.3,"set":"test"},{"u":385,"v":667.7,"set":"test"},{"u":382.5,"v":672,"set":"test"},{"u":463.5,"v":670,"set":"test"},{"u":490,"v":677.9,"set":"test"},{"u":415.5,"v":687.8,"set":"test"},{"u":270.5,"v":711,"set":"test"},{"u":291,"v":713,"set":"test"},{"u":298.5,"v":720,"set":"test"},{"u":303.5,"v":721.7,"set":"test"},{"u":309,"v":716,"set":"test"},{"u":312,"v":724.5,"set":"test"},{"u":346,"v":737.5,"set":"test"},{"u":466.5,"v":724.5,"set":"test"},{"u":465.5,"v":735.3,"set":"test"},{"u":529,"v":698.8,"set":"test"},{"u":542.5,"v":690.6,"set":"test"},{"u":541,"v":723.7,"set":"test"},{"u":517.5,"v":730.7,"set":"test"},{"u":617,"v":727.9,"set":"test"},{"u":642.5,"v":733.3,"set":"test"},{"u":571.5,"v":736.4,"set":"test"},{"u":571.5,"v":740.6,"set":"test"},{"u":515,"v":742.6,"set":"test"},{"u":520,"v":751,"set":"test"},{"u":532.5,"v":753.3,"set":"test"},{"u":536,"v":752,"set":"test"},{"u":530,"v":754.7,"set":"test"},{"u":527.5,"v":757.6,"set":"test"},{"u":525,"v":753.3,"set":"test"},{"u":527.5,"v":760.4,"set":"test"},{"u":531.5,"v":764.6,"set":"test"},{"u":492.5,"v":756.7,"set":"test"},{"u":559,"v":751,"set":"test"},{"u":566.5,"v":749.7,"set":"test"},{"u":580,"v":749.7,"set":"test"},{"u":593.5,"v":747.4,"set":"test"},{"u":582.5,"v":752,"set":"test"},{"u":585,"v":757.6,"set":"test"},{"u":586,"v":761.8,"set":"test"},{"u":587,"v":763.5,"set":"test"},{"u":584,"v":771.7,"set":"test"},{"u":608.5,"v":762.7,"set":"test"},{"u":632.5,"v":769.4,"set":"test"},{"u":675,"v":770.9,"set":"test"},{"u":685,"v":772.3,"set":"test"},{"u":684,"v":771.7,"set":"test"},{"u":575,"v":774.5,"set":"test"},{"u":574,"v":777.3,"set":"test"},{"u":588.5,"v":784.4,"set":"test"},{"u":559,"v":794.3,"set":"test"},{"u":580,"v":791.5,"set":"test"},{"u":586,"v":794.3,"set":"test"},{"u":599,"v":794.9,"set":"test"},{"u":605,"v":797,"set":"test"},{"u":607.5,"v":798,"set":"test"},{"u":610,"v":795.7,"set":"test"},{"u":624,"v":795.7,"set":"test"},{"u":627.5,"v":791.5,"set":"test"},{"u":657.5,"v":788.6,"set":"test"},{"u":550,"v":802.8,"set":"test"},{"u":566,"v":817.7,"set":"test"},{"u":689,"v":812.7,"set":"test"},{"u":694,"v":819,"set":"test"},{"u":708,"v":817.7,"set":"test"},{"u":646,"v":825.9,"set":"test"},{"u":662.5,"v":827.3,"set":"test"},{"u":667.5,"v":826.2,"set":"test"},{"u":665,"v":826.8,"set":"test"},{"u":675,"v":824.5,"set":"test"},{"u":741.5,"v":794.3,"set":"test"},{"u":779,"v":774.5,"set":"test"},{"u":752.5,"v":749.9,"set":"test"},{"u":779,"v":730.7,"set":"test"},{"u":775,"v":720.9,"set":"test"},{"u":746,"v":732.2,"set":"test"},{"u":749,"v":700.2,"set":"test"},{"u":772.5,"v":683.6,"set":"test"},{"u":691.5,"v":697.7,"set":"test"},{"u":689,"v":709.8,"set":"test"},{"u":711.5,"v":680.7,"set":"test"},{"u":706.5,"v":683.6,"set":"test"},{"u":730,"v":672.8,"set":"test"},{"u":733.5,"v":663,"set":"test"},{"u":719,"v":660,"set":"test"},{"u":704,"v":627.3,"set":"test"},{"u":750.5,"v":627.3,"set":"test"},{"u":712.5,"v":593.7,"set":"test"},{"u":711.5,"v":605,"set":"test"},{"u":555,"v":640.9,"set":"test"},{"u":646.5,"v":535.8,"set":"test"},
{"u":584,"v":458,"set":"test"},{"u":587.5,"v":464.6,"set":"test"},{"u":570,"v":473.7,"set":"test"},{"u":539,"v":479.3,"set":"test"},{"u":609,"v":471.7,"set":"test"},{"u":620,"v":463.8,"set":"test"},{"u":625,"v":463,"set":"test"},{"u":616,"v":478,"set":"test"},{"u":610,"v":488.6,"set":"test"},{"u":591.5,"v":485.8,"set":"test"},{"u":588.5,"v":493.4,"set":"test"},{"u":628.5,"v":457.3,"set":"test"},{"u":639.5,"v":459.5,"set":"test"},{"u":644,"v":464.6,"set":"test"},{"u":650,"v":450.5,"set":"test"},{"u":636,"v":446.8,"set":"test"},{"u":767.5,"v":465.8,"set":"test"},{"u":761.5,"v":493.4,"set":"test"},{"u":858,"v":515.2,"set":"test"},{"u":895.3,"v":542.6,"set":"test"},{"u":485,"v":456.7,"set":"test"},{"u":482.5,"v":459.5,"set":"test"},{"u":474,"v":461,"set":"test"},{"u":465,"v":468.6,"set":"test"},{"u":463.5,"v":470,"set":"test"},{"u":442.5,"v":466.6,"set":"test"},{"u":421,"v":473.7,"set":"test"},{"u":435,"v":478.5,"set":"test"},{"u":438,"v":483.6,"set":"test"},{"u":472.5,"v":482.2,"set":"test"},{"u":403,"v":493.4,"set":"test"},{"u":465.5,"v":501.4,"set":"test"},{"u":498.5,"v":508.1,"set":"test"},{"u":411.5,"v":512,"set":"test"},{"u":389,"v":521.7,"set":"test"},{"u":396,"v":523,"set":"test"},{"u":386,"v":530.7,"set":"test"},{"u":391,"v":533.8,"set":"test"},{"u":418.5,"v":534.4,"set":"test"},{"u":437.5,"v":540,"set":"test"},{"u":566,"v":510.4,"set":"test"},{"u":575,"v":516.6,"set":"test"},{"u":567.5,"v":524.5,"set":"test"},{"u":566,"v":526,"set":"test"},{"u":588.5,"v":525,"set":"test"},{"u":562.5,"v":535.8,"set":"test"},{"u":558.5,"v":542.9,"set":"test"},{"u":552.5,"v":543.4,"set":"test"},{"u":547.5,"v":551.4,"set":"test"},{"u":546.5,"v":554.2,"set":"test"},{"u":498.5,"v":542.3,"set":"test"},{"u":502.5,"v":547.1,"set":"test"},{"u":361,"v":556.4,"set":"test"},{"u":372.5,"v":554.2,"set":"test"},{"u":378.5,"v":546.3,"set":"test"},{"u":375,"v":550,"set":"test"},{"u":370,"v":558.4,"set":"test"},{"u":372.5,"v":562.6,"set":"test"},{"u":371,"v":564,"set":"test"},{"u":376,"v":553,"set":"test"},{"u":520,"v":565.5,"set":"test"},{"u":522.5,"v":573,"set":"test"},{"u":525,"v":573,"set":"test"},
{"u":808.3,"v":614.4,"set":"test"},{"u":864,"v":617.5,"set":"test"},{"u":895.3,"v":628.2,"set":"test"},{"u":941,"v":631,"set":"test"},{"u":797.9,"v":646.3,"set":"test"},{"u":828.2,"v":649,"set":"test"},{"u":869.5,"v":656.2,"set":"test"},{"u":978.7,"v":657.6,"set":"test"},{"u":1021.3,"v":658.4,"set":"test"},{"u":1018.5,"v":667.7,"set":"test"},{"u":789.7,"v":685.5,"set":"test"},{"u":793.3,"v":681.3,"set":"test"},{"u":791.5,"v":684,"set":"test"},{"u":806,"v":679.3,"set":"test"},{"u":860,"v":694.3,"set":"test"},{"u":853.1,"v":701,"set":"test"},{"u":854.5,"v":704,"set":"test"},{"u":852,"v":706.7,"set":"test"},{"u":851,"v":705,"set":"test"},{"u":880.3,"v":690.6,"set":"test"},{"u":885.3,"v":689.8,"set":"test"},{"u":890.3,"v":687.8,"set":"test"},{"u":895.3,"v":716.6,"set":"test"},{"u":895.3,"v":732.2,"set":"test"},{"u":856.8,"v":719.7,"set":"test"},{"u":841.8,"v":726.5,"set":"test"},{"u":831,"v":729.6,"set":"test"},{"u":811.5,"v":718,"set":"test"},{"u":797.9,"v":743.2,"set":"test"},{"u":890.3,"v":768,"set":"test"},{"u":964.6,"v":716.6,"set":"test"},{"u":979.6,"v":721.7,"set":"test"},{"u":993.6,"v":723.7,"set":"test"},{"u":983.6,"v":729.9,"set":"test"},{"u":934.3,"v":734.4,"set":"test"},{"u":931.5,"v":744.9,"set":"test"},{"u":946,"v":747.1,"set":"test"},{"u":956.4,"v":745.4,"set":"test"},{"u":964.2,"v":747.7,"set":"test"},
{"u":568.5,"v":537.2,"set":"train"},{"u":471.5,"v":405,"set":"train"},{"u":444.7,"v":430.7,"set":"train"},{"u":505,"v":408,"set":"train"},{"u":510,"v":398,"set":"train"},{"u":520,"v":402,"set":"train"},{"u":528,"v":396,"set":"train"},{"u":500,"v":415,"set":"train"},{"u":480,"v":420,"set":"train"},{"u":492,"v":410,"set":"train"},{"u":515,"v":415,"set":"train"},{"u":478,"v":430,"set":"train"},{"u":495,"v":428,"set":"train"},{"u":527,"v":408,"set":"train"},{"u":518,"v":408,"set":"train"},{"u":488,"v":425,"set":"train"},{"u":535,"v":392,"set":"train"},
{"u":505,"v":425,"set":"train"},{"u":510,"v":428,"set":"train"},{"u":515,"v":426,"set":"train"},{"u":520,"v":430,"set":"train"},{"u":525,"v":428,"set":"train"},{"u":530,"v":425,"set":"train"},{"u":512,"v":431,"set":"train"},{"u":518,"v":433,"set":"train"},{"u":526,"v":432,"set":"train"},{"u":534,"v":420,"set":"train"},{"u":500,"v":430,"set":"train"},{"u":505,"v":433,"set":"train"},{"u":529,"v":418,"set":"train"},{"u":537,"v":414,"set":"train"},{"u":540,"v":405,"set":"train"},{"u":503,"v":428,"set":"train"},{"u":508,"v":424,"set":"train"},{"u":513,"v":429,"set":"train"},{"u":518,"v":425,"set":"train"},{"u":523,"v":431,"set":"train"},{"u":528,"v":428,"set":"train"},{"u":533,"v":424,"set":"train"},{"u":510,"v":433,"set":"train"},{"u":516,"v":431,"set":"train"},{"u":522,"v":434,"set":"train"},{"u":527,"v":420,"set":"train"},{"u":532,"v":416,"set":"train"},{"u":538,"v":410,"set":"train"},{"u":521,"v":426,"set":"train"},{"u":506,"v":431,"set":"train"}
]},
"encoding":{
"x":{"field":"u","type":"quantitative","scale":{"domain":[0,1568],"range":[0,2869]},"axis":null},
"y":{"field":"v","type":"quantitative","scale":{"domain":[885,0],"range":[1620,0]},"axis":null}
},
"layer":[
{"data":{"name":"grid"},"mark":{"type":"line","color":"black","strokeWidth":2.5,"strokeDash":[3,12],"strokeCap":"butt"},"encoding":{"detail":{"field":"line"}}},
{"data":{"name":"axes"},"mark":{"type":"line","color":"black","strokeWidth":2.8},"encoding":{"detail":{"field":"line"}}},
{"data":{"name":"points"},"mark":{"type":"point","filled":false,"strokeWidth":5,"opacity":1,"size":340},"encoding":{"color":{"field":"set","type":"nominal","scale":{"domain":["train","test"],"range":["#0000ff","#ff0000"]},"legend":{"title":null,"orient":"none","legendX":2169,"legendY":113,"strokeColor":"black","fillColor":"white","padding":14,"rowPadding":21,"symbolSize":340,"symbolStrokeWidth":2.5,"symbolOffset":39,"labelOffset":38,"labelFont":"Liberation Sans","labelFontWeight":"bold","labelFontSize":47,"labelColor":"black","labelLimit":700,"labelExpr":"datum.label=='train'?'training set':'test set with TCP flood'"}}}},
{"data":{"name":"ticks"},"transform":[{"filter":"datum.align=='right'"}],"mark":{"type":"text","align":"right","baseline":"middle","fontWeight":"bold","fontSize":45,"color":"black","stroke":"black","strokeWidth":1},"encoding":{"text":{"field":"label"}}},
{"data":{"name":"ticks"},"transform":[{"filter":"datum.align=='center'"}],"mark":{"type":"text","align":"center","baseline":"middle","fontWeight":"bold","fontSize":45,"color":"black","stroke":"black","strokeWidth":1},"encoding":{"text":{"field":"label"}}}
]}
